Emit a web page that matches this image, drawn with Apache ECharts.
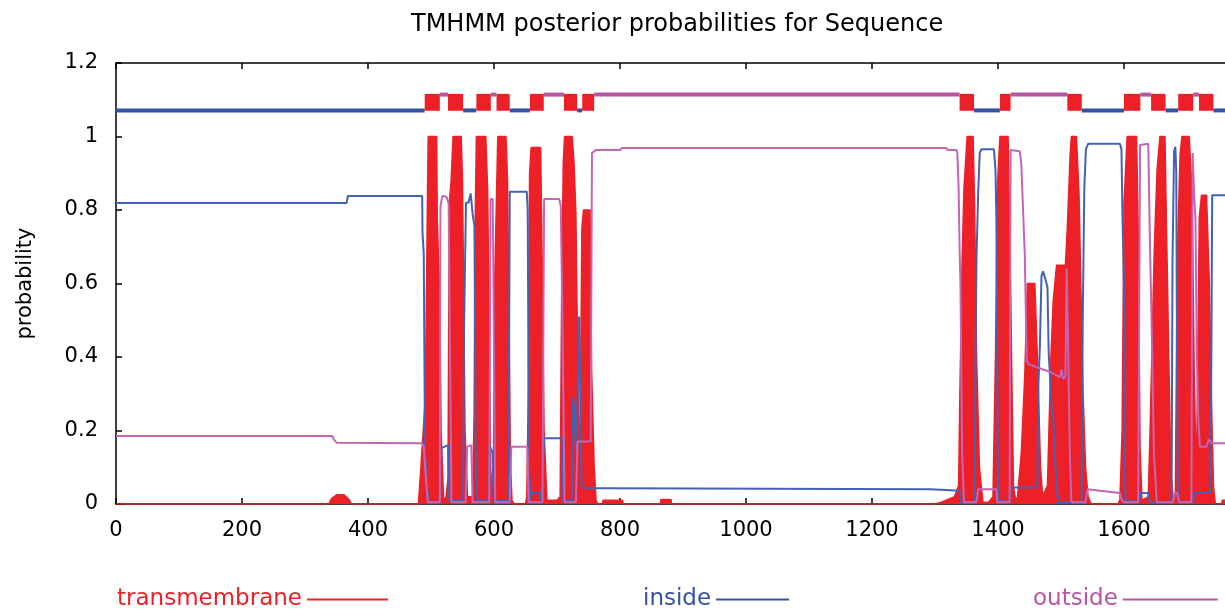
<!DOCTYPE html>
<html>
<head>
<meta charset="utf-8">
<script src="https://cdn.jsdelivr.net/npm/echarts@6/dist/echarts.min.js"></script>
<style>
html,body{margin:0;padding:0;background:#fff;}
#chart{width:1225px;height:615px;}
</style>
</head>
<body>
<div id="chart"></div>
<script>
// ---- data (residue position, posterior probability) ----
const xTicks = [0, 200, 400, 600, 800, 1000, 1200, 1400, 1600];
const yTicks = [0, 0.2, 0.4, 0.6, 0.8, 1, 1.2];

const tmData = [
 [0,0],[338,0],[342,0.015],[350,0.025],[362,0.025],[370,0.012],[374,0],[480,0],
 [482,0],[484,0.10],[491,0.29],[494,0.77],[495.5,1.0],[509,1.0],[510,0.77],[514,0.57],[516,0.2],[520,0.01],
 [524,0.02],[527,0.07],[529,0.82],[532,0.88],[535,1.0],[548,1.0],[550,0.88],[552,0.55],[554,0.2],[558,0.02],
 [566,0.02],[568.5,0.25],[570,0.75],[572,1.0],[587,1.0],[590,0.85],[592.5,0.45],[594.5,0.1],[598,0.02],
 [599,0.03],[601,0.6],[603.5,0.8],[606,1.0],[619,1.0],[621.5,0.88],[624,0.5],[626,0.12],[628.5,0.01],
 [632,0],[650,0],
 [652,0.02],[654.5,0.3],[656.5,0.9],[659,0.97],[674,0.97],[677,0.6],[679.5,0.2],[684,0.01],[700,0.01],
 [705,0.02],[707.5,0.6],[710,0.93],[712,1.0],[724,1.0],[727,0.93],[730,0.79],[733.5,0.3],[736,0.05],
 [738,0.05],[739.5,0.75],[742,0.8],[752.5,0.8],[755,0.36],[759,0.1],[762,0.01],
 [765,0],[772,0],[773,0.01],[804,0.01],[805,0],[864,0],[865,0.012],[881,0.012],[882,0],
 [1300,0],[1310,0.005],[1331,0.02],
 [1337.5,0.05],[1339.5,0.3],[1343,0.66],[1346,0.86],[1351,1.0],[1360.5,1.0],[1363,0.8],[1366,0.4],[1370.5,0.1],[1376,0.005],[1385,0.005],
 [1392,0.02],[1396,0.4],[1399,0.86],[1403,1.0],[1416,1.0],[1418.5,0.77],[1421.5,0.4],[1424.5,0.05],[1428,0.01],
 [1431,0.02],[1437,0.14],[1442.5,0.35],[1446.5,0.6],[1458.5,0.6],[1463.5,0.35],[1467.5,0.1],[1471,0.02],
 [1478.5,0.05],[1484,0.4],[1487.5,0.55],[1493,0.65],[1507,0.65],
 [1510,0.75],[1514.5,0.95],[1516.5,1.0],[1524.5,1.0],[1528.5,0.85],[1531.5,0.6],[1535,0.3],[1539,0.1],[1543,0.02],[1548,0],[1590,0],
 [1593.5,0.01],[1597,0.2],[1600,0.82],[1605,1.0],[1620,1.0],[1622.5,0.75],[1625.5,0.15],[1628.5,0.01],
 [1638.5,0.02],[1641,0.17],[1644.5,0.43],[1648,0.69],[1652.5,0.91],[1657,1.0],[1665,1.0],[1667.5,0.75],[1671,0.41],[1674.5,0.08],[1678,0.02],
 [1681.5,0.02],[1684.5,0.66],[1689,0.95],[1692,1.0],[1703.5,1.0],[1708,0.85],[1711.5,0.35],[1715,0.05],
 [1717,0.4],[1719.5,0.78],[1723,0.84],[1731,0.84],[1735.5,0.6],[1738.5,0.3],[1742,0.05],[1745,0],[1755,0],[1756,0.01],[1763,0.01]
];

const insideData = [
 [0,0.819],[366,0.819],[368,0.838],[486,0.838],[486.5,0.737],[488.5,0.682],[490.5,0.138],[494,0.04],[496.5,0.005],
 [515,0.005],[516.5,0.152],[527,0.16],[529,0.01],[551,0.01],[552.5,0.485],[555.5,0.82],[559.5,0.82],[563,0.845],[566,0.79],[569,0.755],[571,0.138],[573.5,0.01],
 [591.5,0.01],[593,0.16],[597.5,0.14],[599.5,0.01],[623,0.01],[625,0.85],[652,0.85],[653.5,0.8],[655.5,0.1],[658,0.01],[660.5,0.03],[673,0.03],[675,0.01],
 [678,0.01],[679.5,0.179],[708.5,0.179],[710,0.01],[724,0.01],[725.5,0.29],[727.5,0.25],[730.5,0.14],[732.5,0.27],[735,0.51],[737,0.51],[739,0.05],[743,0.043],
 [782,0.043],[784,0.04],[1293,0.04],[1296,0.036],[1339,0.036],[1340.5,0.005],[1363,0.005],[1364,0.36],[1366,0.68],[1368.5,0.845],[1371,0.955],[1373.5,0.965],
 [1393.5,0.965],[1396,0.91],[1397.5,0.77],[1400,0.01],[1418.5,0.005],[1421.5,0.045],[1462.5,0.045],[1464,0.32],[1466.5,0.43],[1469,0.62],[1471.5,0.633],
 [1475.5,0.61],[1478.5,0.59],[1480.5,0.41],[1485,0.27],[1488,0.23],[1490,0.14],[1493,0.05],[1495.5,0.005],[1532.5,0.005],[1534.5,0.5],[1537,0.86],[1539.5,0.965],
 [1543,0.98],[1593.5,0.98],[1596,0.965],[1597.5,0.79],[1600,0.59],[1602,0.01],[1624,0.005],[1626,0.03],[1638.5,0.03],[1641,0.005],[1675.5,0.005],[1677,0.66],
 [1679.5,0.96],[1681.5,0.972],[1683,0.9],[1684,0.45],[1685.5,0.05],[1688,0.005],[1710,0.005],[1711.5,0.03],[1737.5,0.03],[1740,0.84],[1763,0.84]
];

const outsideData = [
 [0,0.185],[343,0.185],[346,0.175],[350,0.167],[486,0.165],[488.5,0.156],[491.5,0.08],[495,0.005],[514,0.005],[515,0.81],[518,0.838],[524.5,0.836],[528,0.818],
 [530,0.45],[532.5,0.005],[555,0.005],[557.5,0.156],[564,0.16],[566,0.005],[592.5,0.005],[594.5,0.83],[598,0.83],[600,0.4],[602,0.005],[625,0.005],[627.5,0.156],
 [653,0.156],[655,0.005],[677,0.005],[679.5,0.83],[703.5,0.83],[706,0.81],[708.5,0.52],[712,0.005],[730,0.005],[732.5,0.17],[753.5,0.17],[755.5,0.955],[761.5,0.963],
 [800,0.963],[803,0.969],[1318,0.969],[1320,0.963],[1334,0.963],[1335.5,0.955],[1337.5,0.86],[1339,0.7],[1340.5,0.59],[1343,0.14],[1346,0.005],[1365.5,0.005],
 [1368.5,0.04],[1397.5,0.04],[1399,0.005],[1418.5,0.005],[1420,0.963],[1434.5,0.96],[1437,0.925],[1440,0.79],[1442.5,0.68],[1445.5,0.39],[1449,0.38],[1482,0.36],
 [1498,0.345],[1501,0.365],[1503.5,0.34],[1507,0.35],[1509,0.64],[1511.5,0.41],[1514,0.14],[1516.5,0.005],[1539,0.005],[1542,0.04],[1593.5,0.03],[1596.5,0.01],
 [1600,0.005],[1622.5,0.005],[1625.5,0.977],[1638.5,0.98],[1641,0.73],[1644.5,0.43],[1647.5,0.14],[1652,0.005],[1678,0.005],[1680.5,0.03],[1684.5,0.03],[1687,0.005],
 [1707,0.005],[1709,0.955],[1711,0.86],[1713.5,0.77],[1715.5,0.41],[1718,0.23],[1720.5,0.156],[1731,0.156],[1734.5,0.175],[1740,0.165],[1763,0.165]
];

// predicted topology (start, end residue)
const insideSegs = [[0,490],[551,572],[625,657],[732,740],[1362,1403],[1533,1600],[1666,1686],[1742,1763]];
const outsideSegs = [[514,527],[595,604],[679,711],[759,1339],[1420,1510],[1626,1643],[1710,1719]];
const tmSegs = [[490,514],[527,551],[572,595],[604,625],[657,679],[711,732],[740,759],[1339,1362],[1403,1420],[1510,1533],[1600,1626],[1643,1666],[1686,1710],[1719,1742]];
const topoLevels = {inside: 1.071, outside: 1.114, tmLow: 1.07, tmHigh: 1.116};

// ---- styles ----
const RED = '#ee2027', BLUE = '#4462b2', BLUE_DARK = '#3452a4', MAG = '#c466b6', MAG_DARK = '#b955a4';
const FONT = 'DejaVu Sans';

function lineSegRender(level, color, width) {
  return function (params, api) {
    const p1 = api.coord([api.value(0), level]);
    const p2 = api.coord([api.value(1), level]);
    return {
      type: 'rect',
      shape: {x: p1[0], y: p1[1] - width / 2, width: p2[0] - p1[0], height: width},
      style: {fill: color}
    };
  };
}
function boxRender(params, api) {
  const p1 = api.coord([api.value(0), topoLevels.tmHigh]);
  const p2 = api.coord([api.value(1), topoLevels.tmLow]);
  return {
    type: 'rect',
    shape: {x: p1[0], y: p1[1], width: p2[0] - p1[0], height: p2[1] - p1[1]},
    style: {fill: RED}
  };
}

const chart = echarts.init(document.getElementById('chart'), null, {renderer: 'canvas'});
const axisLineStyle = {color: '#000', width: 1.5};
const option = {
  animation: false,
  backgroundColor: '#fff',
  title: {
    text: 'TMHMM posterior probabilities for Sequence',
    left: 406, top: 8,
    textStyle: {fontFamily: FONT, fontSize: 24, fontWeight: 'normal', color: '#000'}
  },
  legend: [
    {data: ['transmembrane'], left: 117, top: 588, padding: 0, align: 'right', icon: 'rect', itemWidth: 81, itemHeight: 2, itemGap: 0,
     textStyle: {color: RED, fontFamily: FONT, fontSize: 23}},
    {data: ['inside'], left: 643, top: 588, padding: 0, align: 'right', icon: 'rect', itemWidth: 73, itemHeight: 2,
     textStyle: {color: BLUE_DARK, fontFamily: FONT, fontSize: 23}},
    {data: ['outside'], left: 1033, top: 588, padding: 0, align: 'right', icon: 'rect', itemWidth: 95, itemHeight: 2,
     textStyle: {color: MAG_DARK, fontFamily: FONT, fontSize: 23}}
  ],
  grid: {left: 116, top: 63, width: 1134, height: 441, containLabel: false, outerBoundsMode: 'none'},
  xAxis: [
    {type: 'value', min: 0, max: 1800, interval: 200, position: 'bottom',
     axisLine: {show: true, onZero: false, lineStyle: axisLineStyle},
     axisTick: {show: true, inside: true, length: 6, lineStyle: axisLineStyle},
     axisLabel: {show: true, color: '#000', fontFamily: FONT, fontSize: 21, margin: 16, showMaxLabel: false,
       formatter: v => xTicks.indexOf(v) >= 0 ? String(v) : ''},
     splitLine: {show: false}},
    {type: 'value', min: 0, max: 1800, interval: 200, position: 'top',
     axisLine: {show: true, onZero: false, lineStyle: axisLineStyle},
     axisTick: {show: true, inside: true, length: 6, lineStyle: axisLineStyle},
     axisLabel: {show: false}, splitLine: {show: false}}
  ],
  yAxis: {
    type: 'value', min: 0, max: 1.2, interval: 0.2,
    axisLine: {show: true, onZero: false, lineStyle: axisLineStyle},
    axisTick: {show: true, inside: true, length: 6, lineStyle: axisLineStyle},
    axisLabel: {color: '#000', fontFamily: FONT, fontSize: 21, margin: 18,
      formatter: v => { const t = yTicks.find(k => Math.abs(k - v) < 1e-9); return t === undefined ? '' : String(t); }},
    splitLine: {show: false},
    name: 'probability', nameLocation: 'middle', nameGap: 80,
    nameTextStyle: {color: '#000', fontFamily: FONT, fontSize: 21}
  },
  series: [
    {name: 'transmembrane', type: 'line', data: tmData, symbol: 'none', xAxisIndex: 0,
     lineStyle: {color: RED, width: 1.5}, itemStyle: {color: RED},
     areaStyle: {color: RED, opacity: 1}, z: 2},
    {name: 'inside', type: 'line', data: insideData, symbol: 'none', xAxisIndex: 0,
     lineStyle: {color: BLUE, width: 2}, itemStyle: {color: BLUE_DARK}, z: 3},
    {name: 'outside', type: 'line', data: outsideData, symbol: 'none', xAxisIndex: 0,
     lineStyle: {color: MAG, width: 2}, itemStyle: {color: MAG_DARK}, z: 3},
    {name: 'topo-inside', type: 'custom', data: insideSegs, xAxisIndex: 0, encode: {x: [0, 1]},
     renderItem: lineSegRender(topoLevels.inside, BLUE_DARK, 4), clip: true, z: 4, silent: true},
    {name: 'topo-outside', type: 'custom', data: outsideSegs, xAxisIndex: 0, encode: {x: [0, 1]},
     renderItem: lineSegRender(topoLevels.outside, MAG_DARK, 4), clip: true, z: 4, silent: true},
    {name: 'topo-tm', type: 'custom', data: tmSegs, xAxisIndex: 0, encode: {x: [0, 1]},
     renderItem: boxRender, clip: true, z: 5, silent: true}
  ]
};
chart.setOption(option);
</script>
</body>
</html>
